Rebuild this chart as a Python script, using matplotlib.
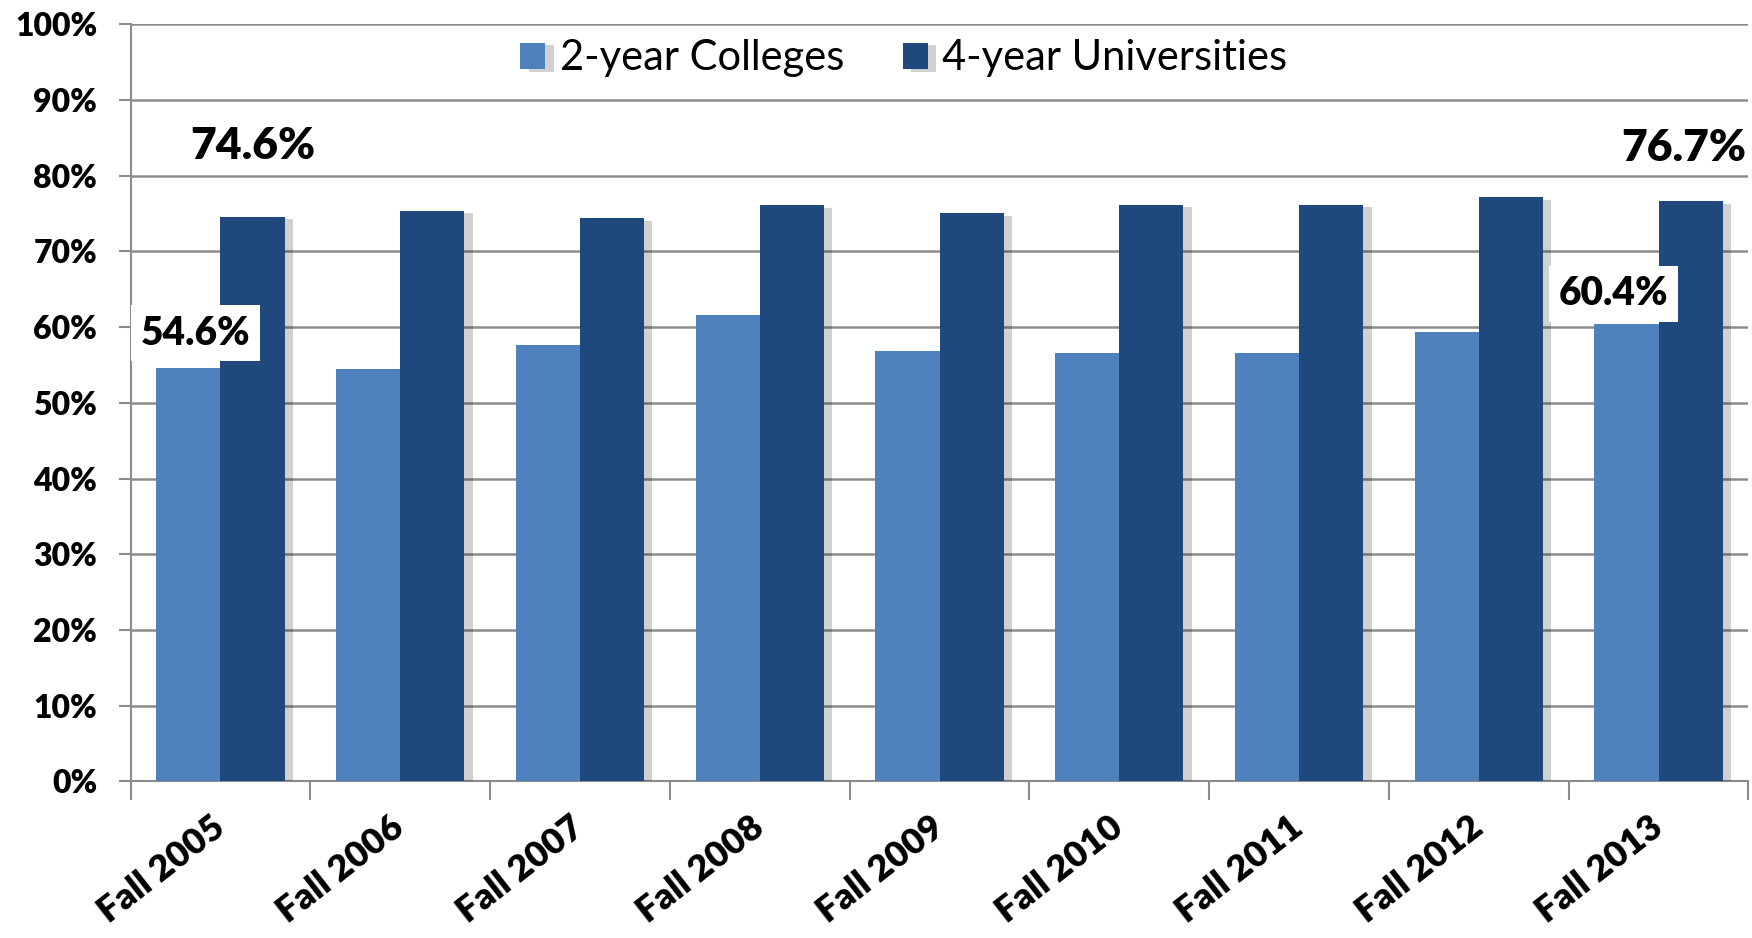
import matplotlib
matplotlib.use("Agg")
import matplotlib.pyplot as plt
import matplotlib.patheffects as pe
import matplotlib.transforms as mtransforms
import numpy as np

plt.rcParams['font.family'] = ['Lato', 'DejaVu Sans']

# Fall-to-fall retention rates (%)
terms = ['Fall 2005', 'Fall 2006', 'Fall 2007', 'Fall 2008', 'Fall 2009',
         'Fall 2010', 'Fall 2011', 'Fall 2012', 'Fall 2013']
two_year = [54.6, 54.5, 57.6, 61.6, 56.8, 56.6, 56.6, 59.3, 60.4]
four_year = [74.6, 75.4, 74.4, 76.1, 75.1, 76.2, 76.2, 77.2, 76.7]

light = '#4F81BD'
dark = '#1F497D'
grid_col = '#8C8C8C'
heavy = 'heavy'

fig = plt.figure(figsize=(17.52, 9.38), dpi=100)
ax = fig.add_axes([0.0745, 0.167, 0.9235, 0.807])

x = np.arange(len(terms))
w = 0.357
shadow = [pe.SimplePatchShadow(offset=(6, -2), shadow_rgbFace='black', alpha=0.18), pe.Normal()]
b1 = ax.bar(x - w / 2, two_year, w, color=light, label='2-year Colleges', zorder=3)
b2 = ax.bar(x + w / 2, four_year, w, color=dark, label='4-year Universities', zorder=3)
for bar in list(b1) + list(b2):
    bar.set_path_effects(shadow)

ax.set_xlim(-0.5, len(terms) - 0.5)
ax.set_ylim(0, 100)
ax.set_yticks(np.arange(0, 101, 10))
ax.set_yticklabels([f'{v}%' for v in range(0, 101, 10)], fontsize=23, fontweight=heavy)
ax.yaxis.grid(True, color=grid_col, linewidth=1.8, zorder=0)
ax.set_axisbelow(True)

# category boundary ticks on x axis
ax.set_xticks(np.arange(-0.5, len(terms), 1.0))
ax.set_xticklabels([])
ax.set_xticks(x, minor=True)
ax.set_xticklabels(terms, minor=True, rotation=38, ha='right', va='center',
                   rotation_mode='anchor', fontsize=26, fontweight=heavy)
shift = mtransforms.ScaledTranslation(0.40, 0, fig.dpi_scale_trans)
for lab in ax.get_xticklabels(minor=True):
    lab.set_transform(lab.get_transform() + shift)
ax.tick_params(axis='x', which='minor', length=0, pad=30)
ax.tick_params(axis='x', which='major', length=14, width=1.5, color=grid_col)
ax.tick_params(axis='y', length=9, width=1.5, color=grid_col, pad=15)

for s in ['top', 'right']:
    ax.spines[s].set_visible(False)
for s in ['left', 'bottom']:
    ax.spines[s].set_color(grid_col)
    ax.spines[s].set_linewidth(1.5)

# data labels
ax.text(x[0] + w / 2, 84, f'{four_year[0]}%', ha='center', va='center',
        fontsize=32, fontweight=heavy, zorder=5)
ax.text(x[-1] + w / 2 - 0.04, 83.7, f'{four_year[-1]}%', ha='center', va='center',
        fontsize=32, fontweight=heavy, zorder=5)
box = dict(facecolor='white', edgecolor='none', pad=7)
ax.text(x[0] - w / 2 + 0.04, 59.2, f'{two_year[0]}%', ha='center', va='center',
        fontsize=28, fontweight=heavy, zorder=5, bbox=box)
ax.text(x[-1] - w / 2 - 0.07, 64.4, f'{two_year[-1]}%', ha='center', va='center',
        fontsize=28, fontweight=heavy, zorder=5, bbox=box)

leg = ax.legend(loc='center', bbox_to_anchor=(0.478, 0.955), ncol=2, frameon=False,
                fontsize=30, handlelength=0.6, handleheight=0.6, handletextpad=0.35,
                columnspacing=1.4)

fig.savefig('out.png', dpi=100)
